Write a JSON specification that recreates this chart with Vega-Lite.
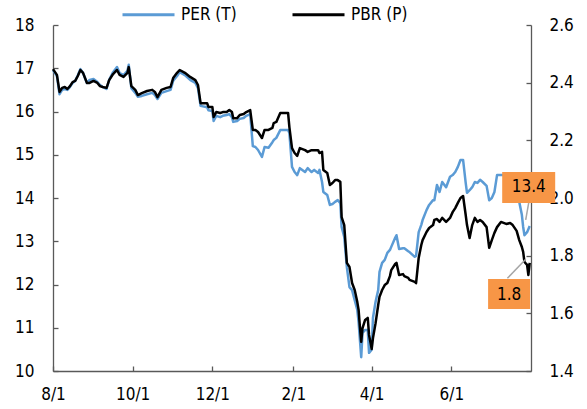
{
  "$schema": "https://vega.github.io/schema/vega-lite/v6.json",
  "width": 478,
  "height": 346,
  "autosize": {"type": "none"},
  "padding": {"left": 53, "top": 25, "right": 56, "bottom": 38},
  "background": "white",
  "config": {
    "view": {"stroke": null},
    "font": "DejaVu Sans Condensed, DejaVu Sans",
    "axis": {
      "grid": false,
      "labelFont": "DejaVu Sans Condensed, DejaVu Sans",
      "labelFontSize": 17,
      "labelColor": "#000000",
      "domainColor": "#595959",
      "domainWidth": 1.3,
      "tickColor": "#595959",
      "tickWidth": 1.3,
      "tickSize": -5,
      "title": null
    },
    "legend": {
      "labelFont": "DejaVu Sans Condensed, DejaVu Sans",
      "labelFontSize": 17,
      "labelColor": "#000000"
    }
  },
  "datasets": {
    "series": [
      {"d":"2019-08-01","per":16.96,"pbr":2.447},
      {"d":"2019-08-04","per":16.82,"pbr":2.427},
      {"d":"2019-08-06","per":16.40,"pbr":2.368},
      {"d":"2019-08-08","per":16.50,"pbr":2.382},
      {"d":"2019-08-10","per":16.52,"pbr":2.385},
      {"d":"2019-08-12","per":16.50,"pbr":2.378},
      {"d":"2019-08-14","per":16.57,"pbr":2.388},
      {"d":"2019-08-16","per":16.66,"pbr":2.402},
      {"d":"2019-08-18","per":16.71,"pbr":2.406},
      {"d":"2019-08-20","per":16.84,"pbr":2.423},
      {"d":"2019-08-22","per":16.98,"pbr":2.444},
      {"d":"2019-08-24","per":16.89,"pbr":2.434},
      {"d":"2019-08-27","per":16.66,"pbr":2.399},
      {"d":"2019-08-29","per":16.73,"pbr":2.399},
      {"d":"2019-09-01","per":16.75,"pbr":2.406},
      {"d":"2019-09-04","per":16.68,"pbr":2.399},
      {"d":"2019-09-06","per":16.61,"pbr":2.388},
      {"d":"2019-09-08","per":16.57,"pbr":2.385},
      {"d":"2019-09-11","per":16.52,"pbr":2.382},
      {"d":"2019-09-13","per":16.73,"pbr":2.409},
      {"d":"2019-09-16","per":16.91,"pbr":2.430},
      {"d":"2019-09-19","per":17.03,"pbr":2.444},
      {"d":"2019-09-21","per":16.89,"pbr":2.427},
      {"d":"2019-09-24","per":16.84,"pbr":2.420},
      {"d":"2019-09-27","per":16.94,"pbr":2.434},
      {"d":"2019-09-28","per":17.08,"pbr":2.454},
      {"d":"2019-09-30","per":16.54,"pbr":2.388},
      {"d":"2019-10-03","per":16.43,"pbr":2.375},
      {"d":"2019-10-05","per":16.34,"pbr":2.357},
      {"d":"2019-10-08","per":16.36,"pbr":2.364},
      {"d":"2019-10-12","per":16.40,"pbr":2.371},
      {"d":"2019-10-16","per":16.43,"pbr":2.375},
      {"d":"2019-10-18","per":16.38,"pbr":2.368},
      {"d":"2019-10-20","per":16.29,"pbr":2.350},
      {"d":"2019-10-23","per":16.43,"pbr":2.375},
      {"d":"2019-10-27","per":16.47,"pbr":2.382},
      {"d":"2019-10-30","per":16.50,"pbr":2.385},
      {"d":"2019-11-01","per":16.71,"pbr":2.416},
      {"d":"2019-11-04","per":16.82,"pbr":2.434},
      {"d":"2019-11-06","per":16.91,"pbr":2.444},
      {"d":"2019-11-10","per":16.84,"pbr":2.434},
      {"d":"2019-11-14","per":16.73,"pbr":2.420},
      {"d":"2019-11-18","per":16.66,"pbr":2.409},
      {"d":"2019-11-20","per":16.54,"pbr":2.392},
      {"d":"2019-11-22","per":16.13,"pbr":2.329},
      {"d":"2019-11-27","per":16.10,"pbr":2.329},
      {"d":"2019-11-28","per":16.03,"pbr":2.316},
      {"d":"2019-12-01","per":16.01,"pbr":2.316},
      {"d":"2019-12-02","per":15.78,"pbr":2.281},
      {"d":"2019-12-04","per":15.90,"pbr":2.298},
      {"d":"2019-12-07","per":15.87,"pbr":2.295},
      {"d":"2019-12-09","per":15.90,"pbr":2.298},
      {"d":"2019-12-12","per":15.92,"pbr":2.298},
      {"d":"2019-12-14","per":15.94,"pbr":2.305},
      {"d":"2019-12-16","per":15.87,"pbr":2.298},
      {"d":"2019-12-17","per":15.76,"pbr":2.277},
      {"d":"2019-12-20","per":15.78,"pbr":2.277},
      {"d":"2019-12-22","per":15.83,"pbr":2.288},
      {"d":"2019-12-25","per":15.85,"pbr":2.291},
      {"d":"2019-12-27","per":15.90,"pbr":2.298},
      {"d":"2019-12-30","per":15.94,"pbr":2.305},
      {"d":"2020-01-01","per":15.20,"pbr":2.236},
      {"d":"2020-01-03","per":15.18,"pbr":2.236},
      {"d":"2020-01-05","per":15.11,"pbr":2.229},
      {"d":"2020-01-08","per":14.95,"pbr":2.208},
      {"d":"2020-01-10","per":15.18,"pbr":2.236},
      {"d":"2020-01-13","per":15.16,"pbr":2.236},
      {"d":"2020-01-16","per":15.29,"pbr":2.243},
      {"d":"2020-01-17","per":15.34,"pbr":2.260},
      {"d":"2020-01-19","per":15.39,"pbr":2.264},
      {"d":"2020-01-22","per":15.57,"pbr":2.295},
      {"d":"2020-01-25","per":15.57,"pbr":2.295},
      {"d":"2020-01-28","per":15.57,"pbr":2.295},
      {"d":"2020-01-29","per":15.50,"pbr":2.246},
      {"d":"2020-01-31","per":14.72,"pbr":2.173},
      {"d":"2020-02-02","per":14.60,"pbr":2.156},
      {"d":"2020-02-04","per":14.53,"pbr":2.146},
      {"d":"2020-02-06","per":14.69,"pbr":2.173},
      {"d":"2020-02-10","per":14.60,"pbr":2.166},
      {"d":"2020-02-12","per":14.69,"pbr":2.160},
      {"d":"2020-02-15","per":14.60,"pbr":2.166},
      {"d":"2020-02-17","per":14.65,"pbr":2.166},
      {"d":"2020-02-20","per":14.58,"pbr":2.166},
      {"d":"2020-02-21","per":14.65,"pbr":2.156},
      {"d":"2020-02-23","per":14.37,"pbr":2.160},
      {"d":"2020-02-24","per":14.14,"pbr":2.097},
      {"d":"2020-02-27","per":14.07,"pbr":2.087},
      {"d":"2020-02-29","per":13.84,"pbr":2.045},
      {"d":"2020-03-02","per":13.86,"pbr":2.052},
      {"d":"2020-03-04","per":13.91,"pbr":2.062},
      {"d":"2020-03-06","per":13.95,"pbr":2.062},
      {"d":"2020-03-08","per":13.88,"pbr":2.056},
      {"d":"2020-03-09","per":13.33,"pbr":1.934},
      {"d":"2020-03-11","per":13.10,"pbr":1.906},
      {"d":"2020-03-13","per":12.40,"pbr":1.775},
      {"d":"2020-03-15","per":11.94,"pbr":1.761},
      {"d":"2020-03-17","per":11.87,"pbr":1.705},
      {"d":"2020-03-19","per":11.64,"pbr":1.681},
      {"d":"2020-03-21","per":11.41,"pbr":1.639},
      {"d":"2020-03-22","per":11.13,"pbr":1.612},
      {"d":"2020-03-23","per":10.72,"pbr":1.553},
      {"d":"2020-03-24","per":10.32,"pbr":1.501},
      {"d":"2020-03-25","per":10.88,"pbr":1.549},
      {"d":"2020-03-27","per":10.95,"pbr":1.577},
      {"d":"2020-03-29","per":10.95,"pbr":1.584},
      {"d":"2020-03-30","per":10.42,"pbr":1.525},
      {"d":"2020-04-01","per":10.49,"pbr":1.476},
      {"d":"2020-04-02","per":11.23,"pbr":1.514},
      {"d":"2020-04-04","per":11.60,"pbr":1.566},
      {"d":"2020-04-06","per":11.87,"pbr":1.629},
      {"d":"2020-04-07","per":12.29,"pbr":1.657},
      {"d":"2020-04-09","per":12.50,"pbr":1.681},
      {"d":"2020-04-11","per":12.57,"pbr":1.698},
      {"d":"2020-04-13","per":12.73,"pbr":1.705},
      {"d":"2020-04-15","per":12.80,"pbr":1.729},
      {"d":"2020-04-16","per":12.87,"pbr":1.750},
      {"d":"2020-04-19","per":13.08,"pbr":1.771},
      {"d":"2020-04-20","per":13.14,"pbr":1.775},
      {"d":"2020-04-22","per":12.82,"pbr":1.733},
      {"d":"2020-04-25","per":12.84,"pbr":1.736},
      {"d":"2020-04-26","per":12.84,"pbr":1.729},
      {"d":"2020-04-29","per":12.77,"pbr":1.723},
      {"d":"2020-04-30","per":12.75,"pbr":1.716},
      {"d":"2020-05-04","per":12.64,"pbr":1.709},
      {"d":"2020-05-05","per":12.66,"pbr":1.705},
      {"d":"2020-05-07","per":13.21,"pbr":1.792},
      {"d":"2020-05-09","per":13.38,"pbr":1.837},
      {"d":"2020-05-10","per":13.49,"pbr":1.854},
      {"d":"2020-05-13","per":13.72,"pbr":1.882},
      {"d":"2020-05-15","per":13.84,"pbr":1.896},
      {"d":"2020-05-18","per":13.95,"pbr":1.906},
      {"d":"2020-05-19","per":13.95,"pbr":1.924},
      {"d":"2020-05-21","per":14.30,"pbr":1.927},
      {"d":"2020-05-23","per":14.14,"pbr":1.917},
      {"d":"2020-05-25","per":14.37,"pbr":1.931},
      {"d":"2020-05-28","per":14.25,"pbr":1.917},
      {"d":"2020-05-31","per":14.49,"pbr":1.931},
      {"d":"2020-06-02","per":14.53,"pbr":1.951},
      {"d":"2020-06-04","per":14.60,"pbr":1.965},
      {"d":"2020-06-06","per":14.72,"pbr":1.983},
      {"d":"2020-06-08","per":14.88,"pbr":2.000},
      {"d":"2020-06-10","per":14.88,"pbr":2.007},
      {"d":"2020-06-12","per":14.35,"pbr":1.941},
      {"d":"2020-06-13","per":14.12,"pbr":1.906},
      {"d":"2020-06-15","per":14.18,"pbr":1.861},
      {"d":"2020-06-17","per":14.25,"pbr":1.906},
      {"d":"2020-06-19","per":14.37,"pbr":1.931},
      {"d":"2020-06-21","per":14.35,"pbr":1.917},
      {"d":"2020-06-23","per":14.42,"pbr":1.924},
      {"d":"2020-06-25","per":14.37,"pbr":1.917},
      {"d":"2020-06-28","per":14.28,"pbr":1.899},
      {"d":"2020-06-30","per":13.95,"pbr":1.827},
      {"d":"2020-07-02","per":14.00,"pbr":1.854},
      {"d":"2020-07-04","per":14.14,"pbr":1.879},
      {"d":"2020-07-06","per":14.53,"pbr":1.899},
      {"d":"2020-07-09","per":14.53,"pbr":1.917},
      {"d":"2020-07-13","per":14.53,"pbr":1.910},
      {"d":"2020-07-16","per":14.49,"pbr":1.913},
      {"d":"2020-07-18","per":14.42,"pbr":1.906},
      {"d":"2020-07-21","per":14.18,"pbr":1.886},
      {"d":"2020-07-23","per":13.91,"pbr":1.854},
      {"d":"2020-07-25","per":13.61,"pbr":1.830},
      {"d":"2020-07-26","per":13.33,"pbr":1.813},
      {"d":"2020-07-27","per":13.14,"pbr":1.778},
      {"d":"2020-07-29","per":13.21,"pbr":1.768},
      {"d":"2020-07-30","per":13.28,"pbr":1.733},
      {"d":"2020-07-31","per":13.35,"pbr":1.775}
    ],
    "perLabel": [{"d":"2020-07-31","v":13.4,"t":"13.4"}],
    "pbrLabel": [{"d":"2020-07-31","v":1.8,"t":"1.8"}]
  },
  "layer": [
    {
      "data": {"name": "series"},
      "mark": {"type": "line", "strokeWidth": 2.5, "strokeJoin": "round"},
      "encoding": {
        "x": {
          "field": "d", "type": "temporal",
          "scale": {"type": "utc", "domain": ["2019-08-01", "2020-08-01"]},
          "axis": {
            "values": ["2019-08-01","2019-10-01","2019-12-01","2020-02-01","2020-04-01","2020-06-01"],
            "labelExpr": "utcFormat(datum.value, '%-m/%-d')",
            "labelPadding": 20, "labelFlush": false
          }
        },
        "y": {
          "field": "per", "type": "quantitative",
          "scale": {"domain": [10, 18], "nice": false, "zero": false},
          "axis": {"orient": "left", "values": [10,11,12,13,14,15,16,17,18], "format": "d", "labelPadding": 24}
        },
        "color": {
          "datum": "PER (T)",
          "scale": {"domain": ["PER (T)", "PBR (P)"], "range": ["#5B9BD5", "#000000"]},
          "legend": {
            "title": null, "orient": "none", "direction": "horizontal",
            "legendX": 68, "legendY": -38, "symbolType": "stroke",
            "symbolSize": 2704, "symbolStrokeWidth": 3, "labelOffset": 5,
            "columnPadding": 49, "padding": 0
          }
        }
      }
    },
    {
      "data": {"name": "series"},
      "mark": {"type": "line", "strokeWidth": 2.5, "strokeJoin": "round"},
      "encoding": {
        "x": {"field": "d", "type": "temporal"},
        "y": {
          "field": "pbr", "type": "quantitative",
          "scale": {"domain": [1.4, 2.6], "nice": false, "zero": false},
          "axis": {"orient": "right", "values": [1.4,1.6,1.8,2.0,2.2,2.4,2.6], "format": ".1f", "labelPadding": 23}
        },
        "color": {"datum": "PBR (P)"}
      }
    },
    {
      "data": {"name": "perLabel"},
      "encoding": {
        "x": {"field": "d", "type": "temporal"},
        "y": {"field": "v", "type": "quantitative", "scale": {"domain": [10, 18], "nice": false, "zero": false}, "axis": null}
      },
      "layer": [
        {"mark": {"type": "rule", "color": "#A6A6A6", "strokeWidth": 1.5, "xOffset": -4, "yOffset": -4, "x2Offset": -1, "y2Offset": -21},
         "encoding": {"x2": {"field": "d"}, "y2": {"field": "v"}}},
        {"mark": {"type": "rect", "color": "#F79646", "width": 53, "height": 31, "xOffset": -1, "yOffset": -36.5}},
        {"mark": {"type": "text", "fontSize": 17, "color": "#000000", "align": "center", "baseline": "middle", "dx": -1, "dy": -37},
         "encoding": {"text": {"field": "t"}}}
      ]
    },
    {
      "data": {"name": "pbrLabel"},
      "encoding": {
        "x": {"field": "d", "type": "temporal"},
        "y": {"field": "v", "type": "quantitative", "scale": {"domain": [1.4, 2.6], "nice": false, "zero": false}, "axis": null}
      },
      "layer": [
        {"mark": {"type": "rule", "color": "#A6A6A6", "strokeWidth": 1.5, "xOffset": -4, "yOffset": 3.6, "x2Offset": -22.3, "y2Offset": 22.6},
         "encoding": {"x2": {"field": "d"}, "y2": {"field": "v"}}},
        {"mark": {"type": "rect", "color": "#F79646", "width": 42, "height": 30, "xOffset": -20.6, "yOffset": 38.3}},
        {"mark": {"type": "text", "fontSize": 17, "color": "#000000", "align": "center", "baseline": "middle", "dx": -20.6, "dy": 39},
         "encoding": {"text": {"field": "t"}}}
      ]
    }
  ],
  "resolve": {"scale": {"y": "independent"}}
}
